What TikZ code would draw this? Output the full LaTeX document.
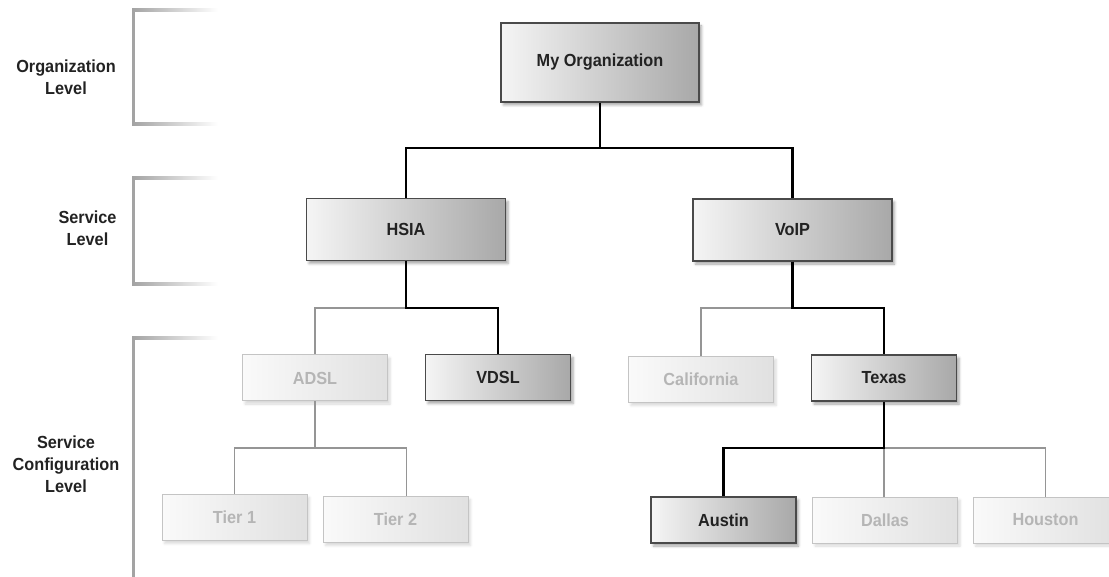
\documentclass[tikz,border=0pt]{standalone}
\usepackage{fontspec}
\setmainfont{Liberation Sans}[FakeStretch=0.93]
\usetikzlibrary{shadows.blur}
\definecolor{inkdark}{HTML}{222222}
\definecolor{boxedge}{HTML}{4A4A4A}
\definecolor{fadeedge}{HTML}{C4C4C4}
\definecolor{fadetext}{HTML}{B5B5B5}
\definecolor{bracketgrey}{HTML}{A3A3A3}
\definecolor{wiregrey}{HTML}{959595}
\tikzset{
  activebox/.style={draw=boxedge, line width=1.2pt, left color=white!96!black, right color=black!34,
    text=inkdark, font=\bfseries\fontsize{17.5}{21}\selectfont, inner sep=0pt,
    blur shadow={shadow xshift=2.5pt, shadow yshift=-3pt, shadow blur radius=2.5pt, shadow opacity=35}},
  fadedbox/.style={draw=fadeedge, line width=1pt, left color=white!98!black, right color=black!12,
    text=fadetext, font=\bfseries\fontsize{17.5}{21}\selectfont, inner sep=0pt,
    minimum width=145pt, minimum height=46pt,
    blur shadow={shadow xshift=2.5pt, shadow yshift=-3pt, shadow blur radius=2.5pt, shadow opacity=15}},
  smallbox/.style={minimum width=145pt, minimum height=46pt},
  levellabel/.style={align=center, text=inkdark, font=\bfseries\fontsize{17.5}{22}\selectfont, inner sep=0pt},
  mainwire/.style={draw=black, line width=2.2pt},
  sidewire/.style={draw=wiregrey, line width=1.8pt},
}
\begin{document}
\begin{tikzpicture}[x=1pt, y=-1pt]
\useasboundingbox (0,0) rectangle (1109,577);

% level brackets on the left
\fill[bracketgrey] (132,8.5) rectangle (135,126);
\shade[left color=bracketgrey, right color=white] (132,8.5) rectangle (218,11.5);
\shade[left color=bracketgrey, right color=white] (132,123) rectangle (218,126);

\fill[bracketgrey] (132,176.5) rectangle (135,285.5);
\shade[left color=bracketgrey, right color=white] (132,176.5) rectangle (218,179.5);
\shade[left color=bracketgrey, right color=white] (132,282.5) rectangle (218,285.5);

\fill[bracketgrey] (132,336.5) rectangle (135,577);
\shade[left color=bracketgrey, right color=white] (132,336.5) rectangle (218,339.5);

% level names
\node[levellabel] (lvlorg) at (66,77) {Organization\\Level};
\node[levellabel] (lvlsvc) at (87.5,228) {Service\\Level};
\node[levellabel] (lvlcfg) at (66,464.5) {Service\\Configuration\\Level};

% hierarchy boxes
\node[activebox, minimum width=198pt, minimum height=79pt] (org) at (600,62.5) {My Organization};
\node[activebox, minimum width=199pt, minimum height=62pt] (hsia) at (406,229.5) {HSIA};
\node[activebox, minimum width=199pt, minimum height=62pt] (voip) at (792.5,230) {VoIP};

\node[fadedbox] (adsl) at (315,378) {ADSL};
\node[activebox, smallbox] (vdsl) at (498,377.5) {VDSL};
\node[fadedbox] (cal) at (701,379.5) {California};
\node[activebox, smallbox] (texas) at (884,378) {Texas};

\node[fadedbox] (tier1) at (234.5,517.5) {Tier 1};
\node[fadedbox] (tier2) at (395.5,519.5) {Tier 2};
\node[activebox, smallbox] (austin) at (723.5,520) {Austin};
\node[fadedbox] (dallas) at (885,520) {Dallas};
\node[fadedbox] (houston) at (1045.5,520) {Houston};

% junction points
\coordinate (jorg) at (600,148);
\coordinate (jhsia) at (406,308);
\coordinate (jvoip) at (792.5,308);
\coordinate (jadsl) at (315,448);
\coordinate (jtexas) at (884,448);

% inactive branches
\draw[sidewire] (jhsia) -| (adsl.north);
\draw[sidewire] (jvoip) -| (cal.north);
\draw[sidewire] (adsl.south) -- (jadsl);
\draw[sidewire] (jadsl) -| (tier1.north);
\draw[sidewire] (jadsl) -| ([xshift=11pt]tier2.north);
\draw[sidewire] (jtexas) -| ([xshift=-1pt]dallas.north);
\draw[sidewire] (jtexas) -| (houston.north);

% active path
\draw[mainwire] (org.south) -- (jorg);
\draw[mainwire] (jorg) -| (hsia.north);
\draw[mainwire] (jorg) -| (voip.north);
\draw[mainwire] (hsia.south) -- (jhsia) -| (vdsl.north);
\draw[mainwire] (voip.south) -- (jvoip) -| (texas.north);
\draw[mainwire] (texas.south) -- (jtexas) -| (austin.north);
\end{tikzpicture}
\end{document}
